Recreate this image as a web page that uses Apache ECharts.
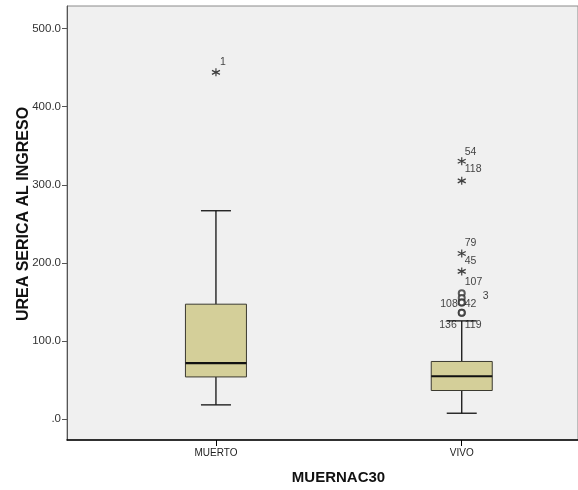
<!DOCTYPE html>
<html>
<head>
<meta charset="utf-8">
<script src="https://cdn.jsdelivr.net/npm/echarts@6/dist/echarts.min.js"></script>
<style>
html, body { margin: 0; padding: 0; background: #fff; }
#chart { width: 578px; height: 490px; }
</style>
</head>
<body>
<div id="chart"></div>
<script>
const categories = ['MUERTO', 'VIVO'];
const boxMin = [18, 7.3];
const boxQ1 = [53.8, 36.4];
const boxMedian = [71.6, 54.7];
const boxQ3 = [147, 73.6];
const boxMax = [266.7, 125.6];

// extremes (*) and outliers (o) with their case numbers
const extremeCat = [0, 1, 1, 1, 1];
const extremeVal = [444, 330, 305, 212, 189];
const extremeId = ['1', '54', '118', '79', '45'];

const outlierCat = [1, 1, 1, 1, 1, 1];
const outlierVal = [161, 155, 149, 149, 136, 136];
const outlierId = ['107', '3', '108', '42', '136', '119'];

const yTicks = [0, 100, 200, 300, 400, 500];

// where each case label sits relative to its marker: [dx, dy, align]
const labelPlace = {
    '1': [4, -10, 'left'], '54': [3, -9, 'left'], '118': [3, -12, 'left'],
    '79': [3, -10, 'left'], '45': [3, -10, 'left'], '107': [3, -11, 'left'],
    '3': [21, -2, 'left'], '108': [-4, 1, 'right'], '42': [3, 1, 'left'],
    '136': [-5, 12, 'right'], '119': [3, 12, 'left']
};

const font = 'Liberation Sans, Arial, sans-serif';
const starPath = 'path://M5,0L5,10M0.7,2.5L9.3,7.5M0.7,7.5L9.3,2.5';

function caseLabel(id) {
    let p = labelPlace[id];
    return {
        show: true,
        position: 'inside',
        align: p[2],
        verticalAlign: 'middle',
        offset: [p[0], p[1]],
        formatter: id,
        fontFamily: font,
        fontSize: 10.5,
        color: '#111'
    };
}

function renderBox(params, api) {
    let x = api.value(0);
    let lo = api.coord([x, api.value(1)]);
    let q1 = api.coord([x, api.value(2)]);
    let md = api.coord([x, api.value(3)]);
    let q3 = api.coord([x, api.value(4)]);
    let hi = api.coord([x, api.value(5)]);
    let cx = lo[0];
    let bw = 61, cw = 30;
    let ln = {stroke: '#111', lineWidth: 1.3};
    return {
        type: 'group',
        children: [
            {type: 'line', shape: {x1: cx, y1: hi[1], x2: cx, y2: q3[1]}, style: ln},
            {type: 'line', shape: {x1: cx, y1: q1[1], x2: cx, y2: lo[1]}, style: ln},
            {type: 'line', shape: {x1: cx - cw / 2, y1: hi[1], x2: cx + cw / 2, y2: hi[1]}, style: ln},
            {type: 'line', shape: {x1: cx - cw / 2, y1: lo[1], x2: cx + cw / 2, y2: lo[1]}, style: ln},
            {type: 'rect', shape: {x: cx - bw / 2, y: q3[1], width: bw, height: q1[1] - q3[1]},
                style: {fill: '#d4cf99', stroke: '#3b3a30', lineWidth: 1}},
            {type: 'line', shape: {x1: cx - bw / 2, y1: md[1], x2: cx + bw / 2, y2: md[1]},
                style: {stroke: '#111', lineWidth: 2.2}}
        ]
    };
}

let chart = echarts.init(document.getElementById('chart'));

let option = {
    backgroundColor: '#fff',
    animation: false,
    grid: {
        left: 67,
        right: 0,
        top: 6,
        bottom: 50,
        show: true,
        backgroundColor: '#f0f0f0',
        borderColor: '#8a8a8a',
        borderWidth: 1
    },
    xAxis: {
        type: 'value',
        min: -0.606,
        max: 1.473,
        axisLine: {show: true, onZero: false, lineStyle: {color: '#000', width: 1.5}},
        axisTick: {show: true, length: 6, customValues: [0, 1], lineStyle: {color: '#000'}},
        axisLabel: {
            customValues: [0, 1],
            formatter: v => categories[v],
            fontFamily: font,
            fontSize: 10,
            color: '#222',
            margin: 8
        },
        splitLine: {show: false},
        name: 'MUERNAC30',
        nameLocation: 'middle',
        nameGap: 30,
        nameMoveOverlap: false,
        nameTextStyle: {
            fontFamily: font,
            fontSize: 15,
            fontWeight: 'bold',
            color: '#111',
            padding: [0, 0, 0, 32]
        }
    },
    yAxis: {
        type: 'value',
        min: -27,
        max: 529,
        axisLine: {show: true, onZero: false, lineStyle: {color: '#555'}},
        axisTick: {show: true, length: 5, customValues: yTicks, lineStyle: {color: '#555'}},
        axisLabel: {
            customValues: yTicks,
            formatter: v => v === 0 ? '.0' : v.toFixed(1),
            fontFamily: font,
            fontSize: 11.5,
            color: '#333',
            margin: 6
        },
        splitLine: {show: false},
        name: 'UREA SERICA AL INGRESO',
        nameLocation: 'middle',
        nameGap: 35,
        nameMoveOverlap: false,
        nameTextStyle: {
            fontFamily: font,
            fontSize: 16,
            fontWeight: 'bold',
            color: '#111',
            padding: [0, 0, 0, 18]
        }
    },
    series: [
        {
            type: 'custom',
            renderItem: renderBox,
            encode: {x: 0, y: [1, 2, 3, 4, 5]},
            data: categories.map((c, i) => [i, boxMin[i], boxQ1[i], boxMedian[i], boxQ3[i], boxMax[i]])
        },
        {
            type: 'scatter',
            symbol: 'emptyCircle',
            symbolSize: 6,
            itemStyle: {color: '#333', borderColor: '#333', borderWidth: 1},
            data: outlierVal.map((v, i) => ({
                value: [outlierCat[i], v],
                label: caseLabel(outlierId[i])
            }))
        },
        {
            type: 'scatter',
            symbol: starPath,
            symbolSize: 8,
            itemStyle: {color: 'transparent', borderColor: '#111', borderWidth: 1.2},
            data: extremeVal.map((v, i) => ({
                value: [extremeCat[i], v],
                label: caseLabel(extremeId[i])
            }))
        }
    ]
};

chart.setOption(option);
</script>
</body>
</html>
